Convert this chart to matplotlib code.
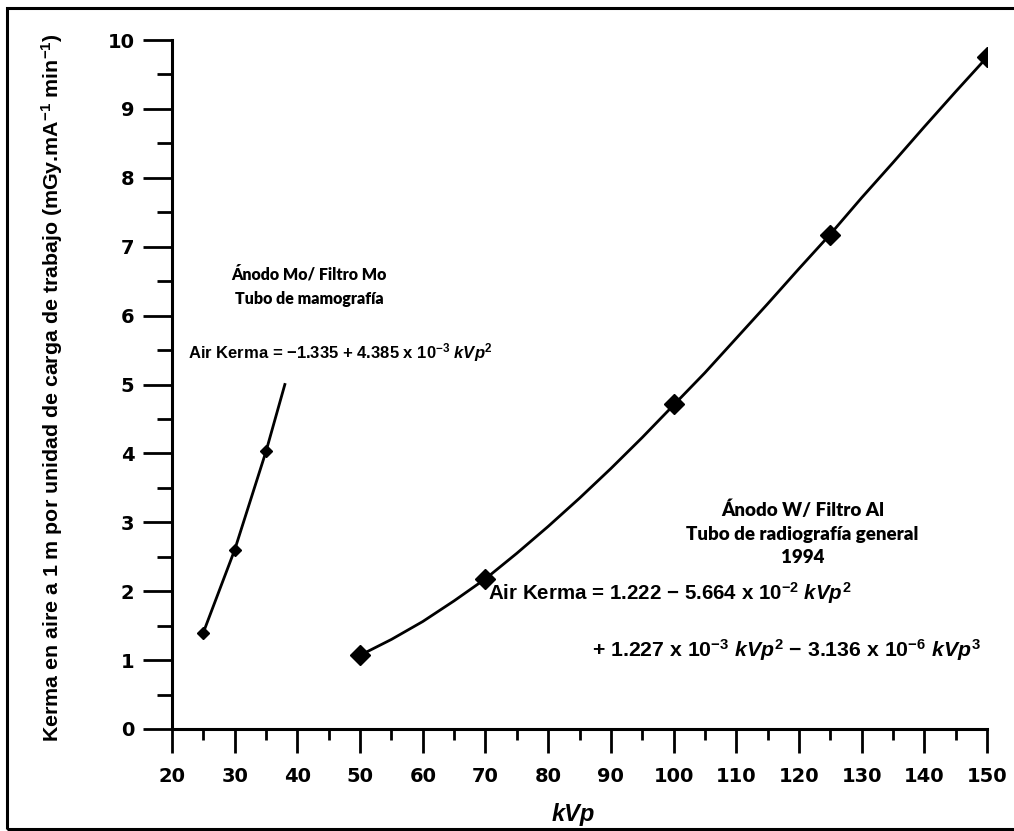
import matplotlib
matplotlib.use("Agg")
import matplotlib.pyplot as plt
from matplotlib.patches import Rectangle
from matplotlib.ticker import MultipleLocator

# ---- data ----
mo_kvp_markers = [25, 30, 35]
mo_kerma_markers = [1.40, 2.60, 4.03]
mo_kvp_line = [25, 30, 35, 38]
mo_kerma_line = [1.40, 2.60, 4.03, 5.00]

w_kvp_markers = [50, 70, 100, 125, 150]
w_kerma_markers = [1.07, 2.17, 4.72, 7.17, 9.75]
w_kvp_line = [50, 55, 60, 65, 70, 75, 80, 85, 90, 95, 100, 105, 110,
              115, 120, 125, 130, 135, 140, 145, 150]
w_kerma_line = [1.07, 1.30, 1.56, 1.86, 2.18, 2.55, 2.94, 3.35, 3.78, 4.23,
                4.70, 5.17, 5.67, 6.17, 6.68, 7.18, 7.71, 8.22, 8.74, 9.25, 9.75]

x_ticks = list(range(20, 151, 10))
y_ticks = list(range(0, 11))

plt.rcParams['font.family'] = ['Liberation Sans', 'DejaVu Sans']
plt.rcParams['mathtext.fontset'] = 'custom'
plt.rcParams['mathtext.rm'] = 'Liberation Sans:bold'
plt.rcParams['mathtext.it'] = 'Liberation Sans:bold:italic'
plt.rcParams['mathtext.bf'] = 'Liberation Sans:bold'

fig = plt.figure(figsize=(10.14, 8.31), dpi=100)
ax = fig.add_axes([172/1014, 1-729/831, (987-172)/1014, (729-40)/831])

ax.plot(mo_kvp_line, mo_kerma_line, color='black', lw=2.0, zorder=3)
ax.plot(mo_kvp_markers, mo_kerma_markers, 'D', color='black', ms=6.5, zorder=4)
ax.plot(w_kvp_line, w_kerma_line, color='black', lw=2.0, zorder=3)
ax.plot(w_kvp_markers, w_kerma_markers, 'D', color='black', ms=10.5, zorder=4)

ax.set_xlim(20, 150)
ax.set_ylim(0, 10)
ax.set_xticks(x_ticks)
ax.set_yticks(y_ticks)
ax.xaxis.set_minor_locator(MultipleLocator(5))
ax.yaxis.set_minor_locator(MultipleLocator(0.5))

for s in ['top', 'right']:
    ax.spines[s].set_visible(False)
for s in ['left', 'bottom']:
    ax.spines[s].set_linewidth(2.2)

ax.tick_params(axis='x', which='major', direction='out', length=17, width=2.0, pad=10)
ax.tick_params(axis='x', which='minor', direction='out', length=8, width=2.0)
ax.tick_params(axis='y', which='major', direction='out', length=21, width=2.0, pad=6)
ax.tick_params(axis='y', which='minor', direction='out', length=11, width=2.0)
for lab in ax.get_xticklabels() + ax.get_yticklabels():
    lab.set_fontsize(14)
    lab.set_fontweight('bold')
    lab.set_family('DejaVu Sans')

fig.text(573/1014, 1-815/831, 'kVp', ha='center', va='center', fontsize=17,
         fontweight='bold', fontstyle='italic')
fig.text(52/1014, 1-388/831,
         'Kerma en aire a 1 m por unidad de carga de trabajo (mGy.mA$^{-1}$ min$^{-1}$)',
         rotation=90, ha='center', va='center', fontsize=15.4, fontweight='bold',
         family=['Liberation Sans', 'DejaVu Sans'])

# annotations
ax.text(41.85, 6.42, 'Ánodo Mo/ Filtro Mo\nTubo de mamografía', ha='center', va='center',
        fontsize=11.5, fontweight='heavy', family=['Lato', 'DejaVu Sans'], linespacing=1.65)
ax.text(22.6, 5.46, 'Air Kerma = −1.335 + 4.385 x 10$^{-3}$ $kVp^2$', ha='left', va='center',
        fontsize=12, fontweight='bold')

ax.text(120.6, 2.84, 'Ánodo W/ Filtro Al\nTubo de radiografía general\n1994', ha='center',
        va='center', fontsize=13.5, fontweight='heavy', family=['Lato', 'DejaVu Sans'],
        linespacing=1.45)
ax.text(70.4, 1.97, 'Air Kerma = 1.222 − 5.664 x 10$^{-2}$ $kVp^2$', ha='left', va='center',
        fontsize=14.8, fontweight='bold')
ax.text(87.0, 1.15, '+ 1.227 x 10$^{-3}$ $kVp^2$ − 3.136 x 10$^{-6}$ $kVp^3$', ha='left',
        va='center', fontsize=15.3, fontweight='bold')

# outer frame
fig.patches.append(Rectangle((7/1014, 1-829/831), 1.2, (829-8)/831, transform=fig.transFigure,
                             fill=False, lw=2.2, edgecolor='black'))

fig.savefig('out.png', dpi=100)
